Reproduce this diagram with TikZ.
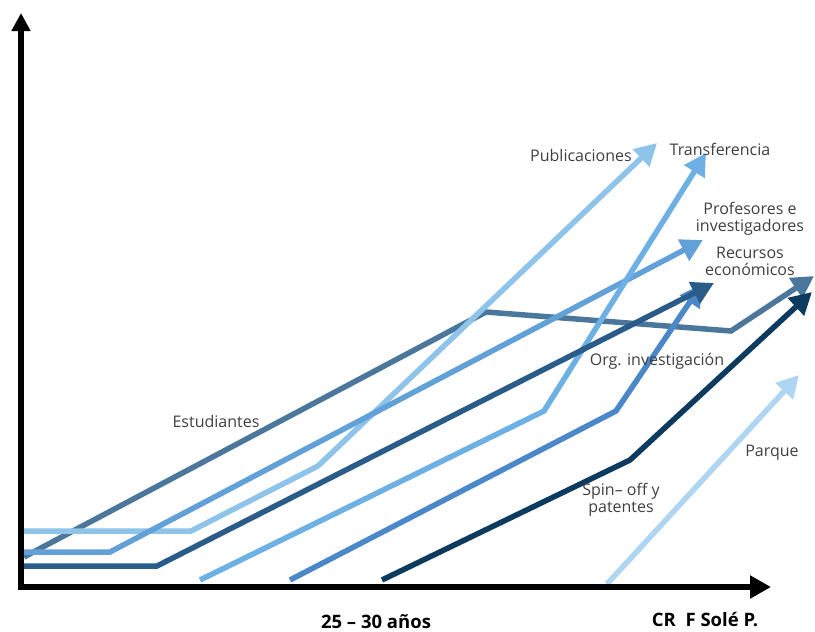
\documentclass[tikz,border=0pt]{standalone}
\usepackage{fontspec}
\setmainfont{Open Sans}
\usetikzlibrary{arrows.meta}
\definecolor{cPub}{HTML}{8EC3EA}
\definecolor{cProf}{HTML}{62A1D8}
\definecolor{cTra}{HTML}{6DB0E3}
\definecolor{cRec}{HTML}{2A5C8A}
\definecolor{cOrg}{HTML}{4A88C9}
\definecolor{cSpin}{HTML}{0D3A5F}
\definecolor{cPar}{HTML}{AED5F2}
\definecolor{cEst}{HTML}{4C779C}
\definecolor{labgray}{HTML}{404040}
\tikzset{
  trend/.style={line width=5.5pt, line join=miter, -{Triangle[length=22pt,width=23pt]}},
  lab/.style={font=\fontsize{16}{17}\selectfont, text=labgray, inner sep=0pt, align=center},
  boldlab/.style={font=\fontsize{18.5}{20}\selectfont\bfseries, text=black, inner sep=0pt, anchor=base},
  axis/.style={line width=6pt, black}
}
\begin{document}
\begin{tikzpicture}[x=1pt,y=-1pt]
\useasboundingbox (0,0) rectangle (815,632);
% coordinates
\coordinate (ytop) at (21,13);
\coordinate (xend) at (771,587);
\coordinate (ybot) at (21,590);
\coordinate (xbeg) at (18,587);
% trend lines
\coordinate (p0) at (24,531); \coordinate (p1) at (191,531); \coordinate (p2) at (318,466); \coordinate (p3) at (657,143);
\coordinate (f0) at (24,552); \coordinate (f1) at (110,552); \coordinate (f3) at (703,240);
\coordinate (r0) at (24,566); \coordinate (r1) at (157,566); \coordinate (r3) at (714,283);
\coordinate (t0) at (200,580); \coordinate (t1) at (544,411); \coordinate (t3) at (706,153);
\coordinate (g0) at (290,580); \coordinate (g1) at (616,411); \coordinate (g3) at (702,284);
\coordinate (s0) at (382,580); \coordinate (s1) at (630,460); \coordinate (s3) at (812,292);
\coordinate (k0) at (607,584); \coordinate (k3) at (799,375);
\coordinate (e0) at (24,557); \coordinate (e1) at (486,312); \coordinate (e2) at (731,331); \coordinate (e3) at (814,276);

\draw[trend, cEst] (e0) -- (e1) -- (e2) -- (e3);
\draw[trend, cPub] (p0) -- (p1) -- (p2) -- (p3);
\draw[trend, cProf] (f0) -- (f1) -- (f3);
\draw[trend, cTra] (t0) -- (t1) -- (t3);
\draw[trend, cOrg] (g0) -- (g1) -- (g3);
\draw[trend, cRec] (r0) -- (r1) -- (r3);
\draw[trend, cSpin] (s0) -- (s1) -- (s3);
\draw[trend, cPar] (k0) -- (k3);

% axes
\draw[axis, -{Triangle[length=18pt,width=18pt]}] (ybot) -- (ytop);
\draw[axis, -{Triangle[length=21pt,width=22pt]}] (xbeg) -- (xend);

% labels
\node[lab] (lpub) at (581,155) {Publicaciones};
\node[lab] (ltra) at (720,149) {Transferencia};
\node[lab] (lprof) at (750,219) {Profesores e\\investigadores};
\node[lab] (lrec) at (750,261) {Recursos\\económicos};
\node[lab] (lorg) at (657,361) {Org. investigación};
\node[lab] (lest) at (216,421) {Estudiantes};
\node[lab] (lspin) at (621,500) {Spin– off y\\patentes};
\node[lab] (lpar) at (772,453) {Parque};
\node[boldlab] (lx) at (376,628) {25 – 30 años};
\node[boldlab] (lcr) at (705,626) {CR\ \ F Solé P.};
\end{tikzpicture}
\end{document}
